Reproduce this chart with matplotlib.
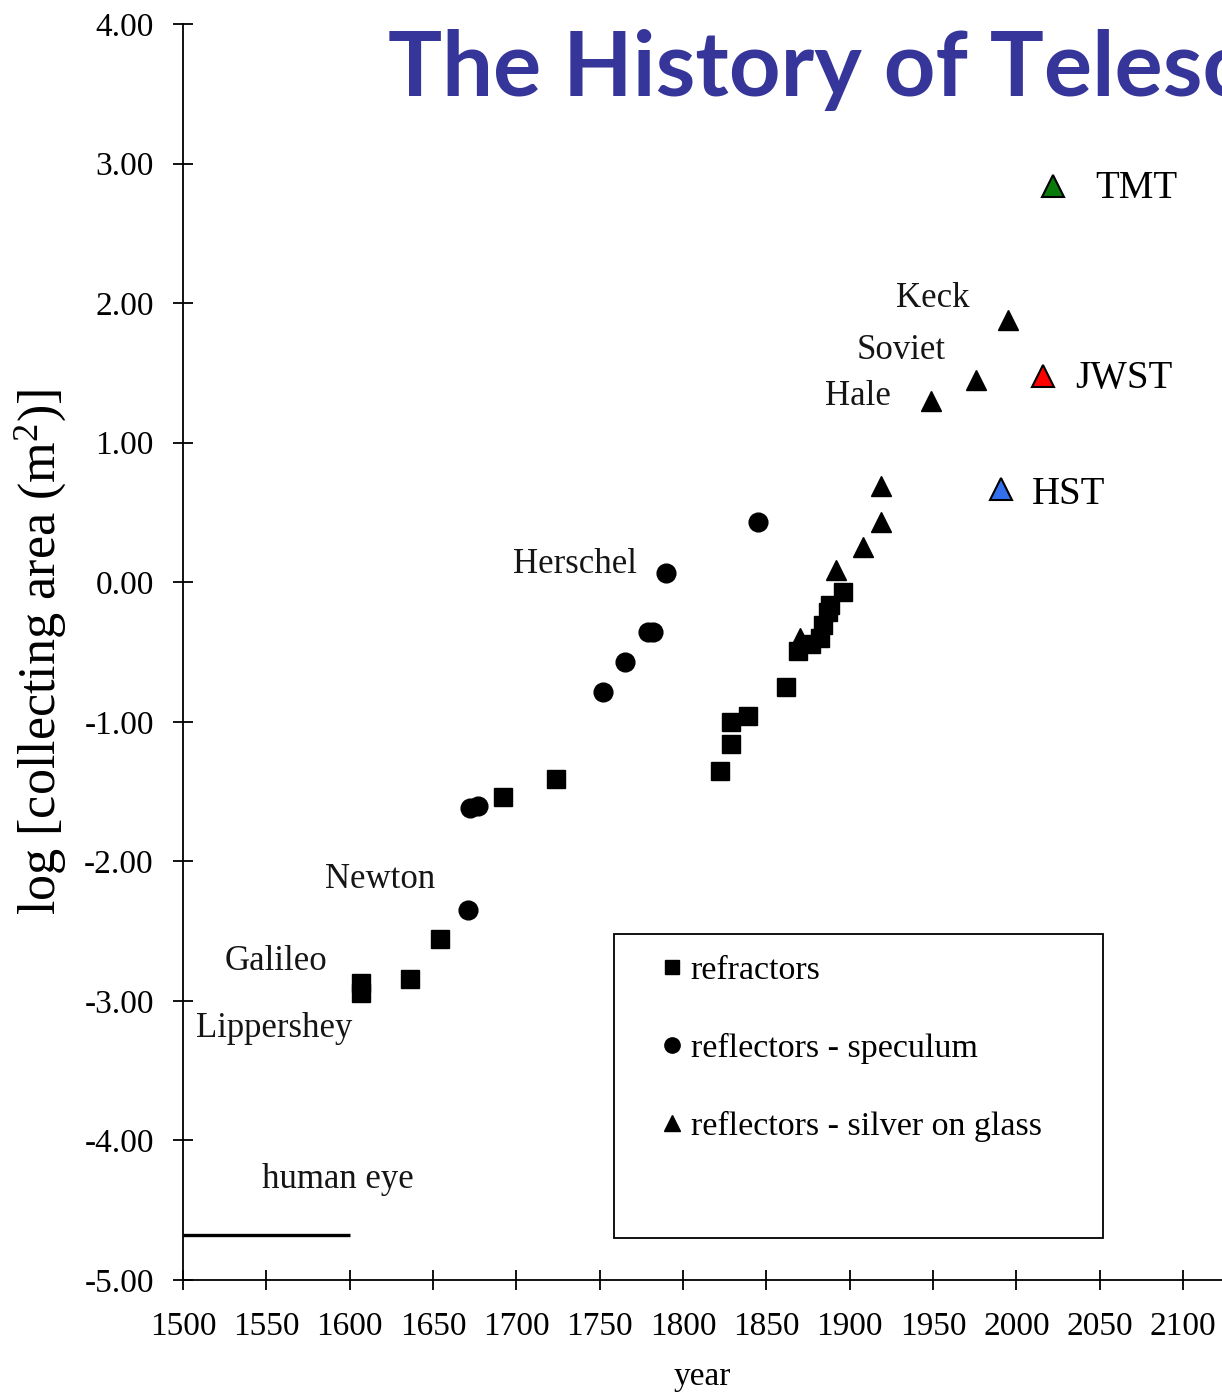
import matplotlib
matplotlib.use("Agg")
import matplotlib.pyplot as plt
from matplotlib.patches import Rectangle
from matplotlib.lines import Line2D

plt.rcParams['axes.unicode_minus'] = False
plt.rcParams['mathtext.fontset'] = 'custom'
plt.rcParams['mathtext.rm'] = 'Liberation Serif'
plt.rcParams['mathtext.it'] = 'Liberation Serif:italic'

# ---- data ----
refr_year = [1607, 1607, 1636, 1654, 1692, 1724, 1822, 1829, 1829, 1839, 1862,
             1869, 1877, 1882, 1884, 1887, 1888, 1896]
refr_val = [-2.87, -2.94, -2.84, -2.56, -1.54, -1.41, -1.35, -1.16, -1.00, -0.96, -0.75,
            -0.49, -0.44, -0.40, -0.31, -0.21, -0.16, -0.07]

spec_year = [1671, 1672, 1677, 1752, 1765, 1779, 1782, 1790, 1845]
spec_val = [-2.35, -1.62, -1.60, -0.79, -0.57, -0.36, -0.36, 0.065, 0.43]

silv_year = [1870, 1892, 1908, 1919, 1919, 1949, 1976, 1995]
silv_val = [-0.40, 0.085, 0.25, 0.43, 0.69, 1.30, 1.45, 1.88]

future_names = ["TMT", "JWST", "HST"]
future_year = [2022, 2016, 1991]
future_val = [2.84, 1.48, 0.67]
future_colors = ["#0a7a0a", "#ff0000", "#3370f0"]
future_text_year = [2047, 2035, 2009]
future_text_val = [2.82, 1.46, 0.63]

eye_years = [1500, 1600]
eye_val = [-4.68, -4.68]

labels = ["Keck", "Soviet", "Hale", "Herschel", "Newton", "Galileo", "Lippershey", "human eye"]
label_year = [1950, 1931, 1905, 1735, 1618, 1556, 1555, 1593]
label_val = [2.03, 1.66, 1.33, 0.13, -2.13, -2.72, -3.20, -4.28]

xticks = [1500, 1550, 1600, 1650, 1700, 1750, 1800, 1850, 1900, 1950, 2000, 2050, 2100]
yticks = [4, 3, 2, 1, 0, -1, -2, -3, -4, -5]
ytick_labels = ["4.00", "3.00", "2.00", "1.00", "0.00", "-1.00", "-2.00", "-3.00", "-4.00", "-5.00"]

legend_labels = ["refractors", "reflectors - speculum", "reflectors - silver on glass"]

# ---- figure ----
W, H = 1222, 1396
fig = plt.figure(figsize=(W / 100, H / 100), dpi=100)
ax = fig.add_axes([183 / W, (H - 1280) / H, (W - 183) / W, 1256 / H])

serif = "Liberation Serif"

ax.plot(refr_year, refr_val, ls="none", marker="s", ms=12.5, color="black")
ax.plot(spec_year, spec_val, ls="none", marker="o", ms=13.5, color="black")
ax.plot(silv_year, silv_val, ls="none", marker="^", ms=15, color="black")
for n, yx, v, c, ty, tv in zip(future_names, future_year, future_val, future_colors,
                               future_text_year, future_text_val):
    ax.plot([yx], [v], ls="none", marker="^", ms=16, mfc=c, mec="black", mew=1.5)
    ax.text(ty, tv, n, fontsize=28, family=serif, ha="left", va="center", color="black")

ax.plot(eye_years, eye_val, color="black", lw=2.4, solid_capstyle="butt")

for t, yx, v in zip(labels, label_year, label_val):
    ax.text(yx, v, t, fontsize=25, family=serif, ha="center", va="center", color="#151515")

ax.set_xlim(1500, 1500 + (W - 183) / 1.667)
ax.set_ylim(-5, 4)
ax.set_xticks(xticks)
ax.set_xticklabels([str(x) for x in xticks])
ax.set_yticks(yticks)
ax.set_yticklabels(ytick_labels)
for lab in ax.get_xticklabels() + ax.get_yticklabels():
    lab.set_family(serif)
    lab.set_fontsize(24)
ax.tick_params(axis="both", direction="inout", length=14, width=1.3, color="black")
ax.tick_params(axis="y", pad=14)
ax.tick_params(axis="x", pad=16)
ax.spines["top"].set_visible(False)
ax.spines["right"].set_visible(False)
for s in ("left", "bottom"):
    ax.spines[s].set_linewidth(1.3)

ax.set_xlabel("year", family=serif, fontsize=24, labelpad=14)
ax.set_ylabel(r"log [collecting area (m$\mathregular{^2}$)]", family=serif, fontsize=37.5,
              labelpad=12)

# legend box
ax.add_patch(Rectangle((0.4148, 0.0334), 0.4707, 0.2421, transform=ax.transAxes,
                       fill=False, ec="black", lw=1.3, zorder=3))
handles = [Line2D([], [], ls="none", marker="s", ms=9.5, color="black"),
           Line2D([], [], ls="none", marker="o", ms=11, color="black"),
           Line2D([], [], ls="none", marker="^", ms=12, color="black")]
leg = ax.legend(handles, legend_labels, loc="upper left", bbox_to_anchor=(0.4445, 0.272),
                frameon=False, prop={"family": serif, "size": 24.5}, handlelength=0.6,
                handletextpad=0.25, labelspacing=1.37, borderpad=0)

fig.text(388 / W, (H - 96) / H, "The History of Telescopes", fontsize=65,
         family="Lato", fontweight="bold", color="#36369a", ha="left", va="baseline")

fig.savefig("out.png", dpi=100)
